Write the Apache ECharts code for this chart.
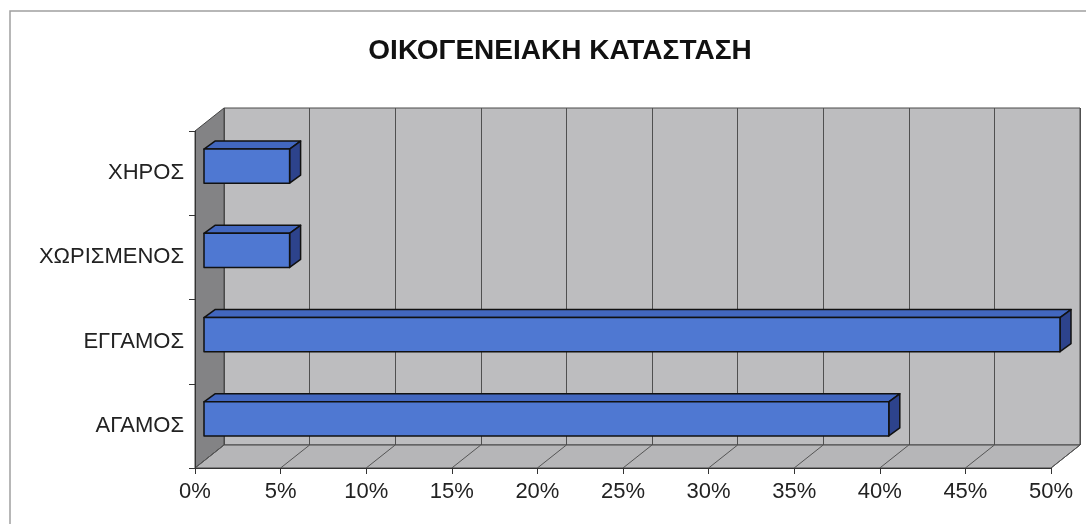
<!DOCTYPE html>
<html>
<head>
<meta charset="utf-8">
<style>
  html, body { margin: 0; padding: 0; background: #fff; }
  #chart { width: 1086px; height: 524px; }
</style>
<script src="https://cdn.jsdelivr.net/npm/echarts@6/dist/echarts.min.js"></script>
</head>
<body>
<div id="chart"></div>
<script>
const title = "ΟΙΚΟΓΕΝΕΙΑΚΗ ΚΑΤΑΣΤΑΣΗ";
const categories = ["ΑΓΑΜΟΣ", "ΕΓΓΑΜΟΣ", "ΧΩΡΙΣΜΕΝΟΣ", "ΧΗΡΟΣ"];
const values = [40, 50, 5, 5];
const xTicks = [0, 5, 10, 15, 20, 25, 30, 35, 40, 45, 50];

// oblique depth of the 3d box (front plane -> back wall)
const DX = 29;
const DY = -23;
const font = "'Liberation Sans', Arial, sans-serif";

const front = { left: 195, top: 131, width: 856, height: 337 };
const back = { left: front.left + DX, top: front.top + DY, width: front.width, height: front.height };

const chart = echarts.init(document.getElementById("chart"), null, { renderer: "canvas" });

const option = {
  backgroundColor: "#ffffff",
  animation: false,
  title: {
    text: title,
    left: 555,
    textAlign: "center",
    top: 32,
    textStyle: { fontFamily: font, fontSize: 28, fontWeight: "bold", color: "#111" },
  },
  graphic: [
    {
      type: "rect",
      silent: true,
      shape: { x: 10, y: 11, width: 1100, height: 540 },
      style: { fill: "none", stroke: "#a0a0a0", lineWidth: 1.5 },
    },
  ],
  grid: [
    { ...front, show: false },
    { ...back, show: true, backgroundColor: "#bdbdbf", borderColor: "#4a4a4a", borderWidth: 1 },
  ],
  xAxis: [
    {
      gridIndex: 0,
      type: "value",
      min: 0,
      max: 50,
      interval: 5,
      axisLine: { show: true, lineStyle: { color: "#333", width: 1 } },
      axisTick: { show: true, length: 6, lineStyle: { color: "#333" } },
      axisLabel: { formatter: "{value}%", fontFamily: font, fontSize: 22, color: "#222", margin: 13 },
      splitLine: { show: false },
      z: 5,
    },
    {
      gridIndex: 1,
      type: "value",
      min: 0,
      max: 50,
      interval: 5,
      axisLine: { show: false },
      axisTick: { show: false },
      axisLabel: { show: false },
      splitLine: { show: true, lineStyle: { color: "#505050", width: 1 } },
    },
  ],
  yAxis: [
    {
      gridIndex: 0,
      type: "category",
      data: categories,
      axisLine: { show: true, lineStyle: { color: "#333", width: 1 } },
      axisTick: { show: true, length: 6, lineStyle: { color: "#333" } },
      axisLabel: { fontFamily: font, fontSize: 22, color: "#222", margin: 11 },
      z: 5,
    },
    {
      gridIndex: 1,
      type: "value",
      show: false,
      splitLine: { show: false },
    },
  ],
  series: [
    {
      // floor and left side wall
      type: "custom",
      xAxisIndex: 0,
      yAxisIndex: 0,
      silent: true,
      clip: false,
      z: 1,
      data: [[0, 0]],
      renderItem: function (params, api) {
        const r = params.coordSys;
        const x = r.x, y = r.y, w = r.width, h = r.height;
        const children = [
          {
            type: "polygon",
            shape: { points: [[x, y], [x + DX, y + DY], [x + DX, y + h + DY], [x, y + h]] },
            style: { fill: "#838385", stroke: "#444", lineWidth: 1 },
          },
          {
            type: "polygon",
            shape: { points: [[x, y + h], [x + DX, y + h + DY], [x + w + DX, y + h + DY], [x + w, y + h]] },
            style: { fill: "#b6b6b8", stroke: "#444", lineWidth: 1 },
          },
        ];
        xTicks.forEach(function (t) {
          const px = api.coord([t, 0])[0];
          children.push({
            type: "line",
            shape: { x1: px, y1: y + h, x2: px + DX, y2: y + h + DY },
            style: { stroke: "#555", lineWidth: 1 },
          });
        });
        return { type: "group", children: children };
      },
    },
    {
      // 3d bars
      type: "custom",
      xAxisIndex: 0,
      yAxisIndex: 0,
      clip: false,
      z: 3,
      data: values.map((v, i) => [v, i]),
      renderItem: function (params, api) {
        const v = api.value(0);
        const i = api.value(1);
        const p0 = api.coord([0, i]);
        const p1 = api.coord([v, i]);
        const band = api.size([0, 1])[1];
        const bh = band * 0.405;
        const ox = 9, oy = -7; // bar front face sits a bit into the box
        const dx = 11, dy = -8; // bar depth
        const x0 = p0[0] + ox;
        const x1 = p1[0] + ox;
        const yt = p0[1] + oy - bh / 2;
        const yb = yt + bh;
        const edge = { stroke: "#111", lineWidth: 1.5, lineJoin: "round" };
        return {
          type: "group",
          children: [
            {
              type: "polygon",
              shape: { points: [[x0, yt], [x1, yt], [x1 + dx, yt + dy], [x0 + dx, yt + dy]] },
              style: Object.assign({ fill: "#4267bf" }, edge),
            },
            {
              type: "polygon",
              shape: { points: [[x1, yt], [x1 + dx, yt + dy], [x1 + dx, yb + dy], [x1, yb]] },
              style: Object.assign({ fill: "#2d438c" }, edge),
            },
            {
              type: "rect",
              shape: { x: x0, y: yt, width: x1 - x0, height: bh },
              style: Object.assign({ fill: "#4f78d2" }, edge),
            },
          ],
        };
      },
    },
  ],
};

chart.setOption(option);
</script>
</body>
</html>
